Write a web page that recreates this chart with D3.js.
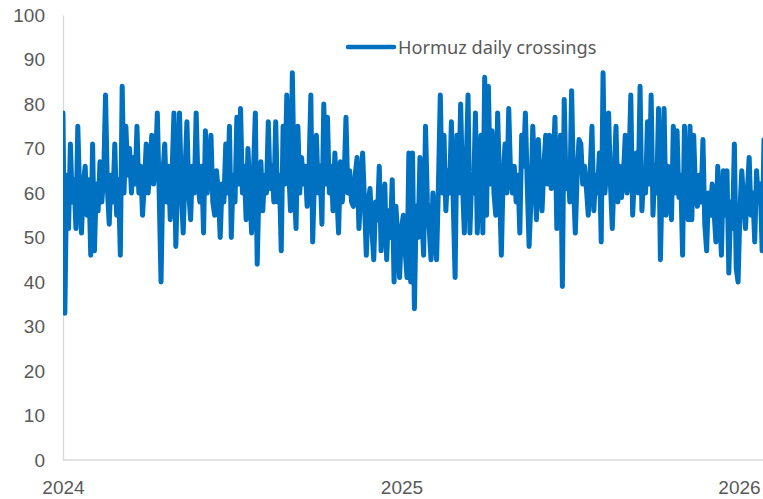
<!DOCTYPE html>
<html>
<head>
<meta charset="utf-8">
<script src="https://cdn.jsdelivr.net/npm/d3@7"></script>
<style>
  body { margin: 0; background: #fff; }
  svg { display: block; }
</style>
</head>
<body>
<div id="chart"></div>
<script>
// daily crossings, one value every 2 days starting 2024-01-01
var startDate = new Date(2024, 0, 1);
var stepDays = 2;
var crossings = [
  78,33,64,52,71,58,63,52,75,60,
  51,62,66,55,63,46,71,47,62,56,
  67,58,64,82,61,53,64,58,71,55,
  63,46,84,60,75,64,70,60,68,62,
  75,60,66,55,62,71,60,65,73,62,
  66,78,60,40,64,71,58,66,54,65,
  78,48,64,78,60,51,65,76,60,54,
  66,60,78,62,58,66,51,74,60,66,
  73,58,55,65,60,50,62,58,71,60,
  75,50,64,58,77,62,79,60,66,54,
  70,60,51,65,78,44,62,67,56,64,
  60,76,61,66,58,76,58,64,47,75,
  62,82,66,56,87,62,52,75,60,68,
  62,66,57,65,82,49,64,73,60,66,
  53,80,62,77,60,66,56,69,60,51,
  67,58,63,77,60,65,58,57,64,68,
  52,60,69,58,46,58,61,52,45,58,
  54,66,47,56,62,45,56,50,63,40,
  57,50,41,52,55,47,41,69,40,69,
  34,57,50,68,55,46,75,58,52,45,
  60,52,45,62,82,60,73,56,65,60,
  76,58,41,73,60,80,62,51,66,82,
  51,64,60,78,51,64,73,51,86,55,
  84,62,74,60,55,78,62,46,64,71,
  60,79,64,60,66,58,64,51,73,66,
  78,62,48,58,75,64,54,72,62,56,
  66,73,62,73,61,66,77,52,64,73,
  39,81,61,66,58,83,62,51,64,72,
  71,62,66,61,55,64,75,56,64,60,
  69,49,87,60,66,78,62,52,64,75,
  58,66,59,64,73,60,66,82,55,64,
  69,60,84,56,64,60,76,62,82,55,
  66,60,79,45,64,79,55,66,60,54,
  75,60,74,59,64,46,75,60,54,75,
  54,73,60,57,64,58,72,53,47,60,
  55,62,56,49,66,56,46,65,55,65,
  42,58,52,71,43,40,56,65,58,52,
  60,68,55,60,49,65,58,62,47,72,
  47
];
var yTicks = [0, 10, 20, 30, 40, 50, 60, 70, 80, 90, 100];
var xTicks = ["2024", "2025", "2026"];
var seriesName = "Hormuz daily crossings";

var width = 763, height = 499;
var plotLeft = 63, plotTop = 15, plotBottom = 460;

var data = crossings.map(function(v, i) {
  return { date: d3.timeDay.offset(startDate, i * stepDays), value: v };
});

var svg = d3.select("#chart").append("svg")
  .attr("width", width)
  .attr("height", height);

var x = d3.scaleTime()
  .domain([new Date(2024, 0, 1), new Date(2026, 0, 1)])
  .range([plotLeft, 739]);

var y = d3.scaleLinear()
  .domain([0, 100])
  .range([plotBottom, plotTop]);

svg.append("defs").append("clipPath")
  .attr("id", "plot-clip")
  .append("rect")
  .attr("x", plotLeft)
  .attr("y", 0)
  .attr("width", width - plotLeft)
  .attr("height", plotBottom + 3);

// axes
var yAxis = d3.axisLeft(y)
  .tickValues(yTicks)
  .tickSize(0)
  .tickPadding(18);

svg.append("g")
  .attr("class", "y axis")
  .attr("transform", "translate(" + plotLeft + ",0)")
  .call(yAxis)
  .call(function(g) {
    g.select(".domain").attr("stroke", "#d9d9d9").attr("stroke-width", 1.3);
    g.selectAll("text")
      .attr("fill", "#595959")
      .style("font-family", "'Liberation Sans', Arial, sans-serif")
      .style("font-size", "19px");
  });

var xAxis = d3.axisBottom(x)
  .tickValues(xTicks.map(function(t) { return new Date(+t, 0, 1); }))
  .tickFormat(d3.timeFormat("%Y"))
  .tickSize(0)
  .tickPadding(21);

svg.append("g")
  .attr("class", "x axis")
  .attr("transform", "translate(0," + plotBottom + ")")
  .call(xAxis)
  .call(function(g) {
    g.select(".domain")
      .attr("d", "M" + plotLeft + ",0H" + width)
      .attr("stroke", "#d9d9d9").attr("stroke-width", 1.3);
    g.selectAll("text")
      .attr("fill", "#595959")
      .style("font-family", "'Liberation Sans', Arial, sans-serif")
      .style("font-size", "19px");
  });

// the series line
var line = d3.line()
  .x(function(d) { return x(d.date); })
  .y(function(d) { return y(d.value); });

svg.append("path")
  .datum(data)
  .attr("clip-path", "url(#plot-clip)")
  .attr("fill", "none")
  .attr("stroke", "#0070c0")
  .attr("stroke-width", 5)
  .attr("stroke-linejoin", "round")
  .attr("stroke-linecap", "round")
  .attr("d", line);

// legend
var legend = svg.append("g").attr("class", "legend");
legend.append("line")
  .attr("x1", 348).attr("x2", 394)
  .attr("y1", 47).attr("y2", 47)
  .attr("stroke", "#0070c0")
  .attr("stroke-width", 4.5)
  .attr("stroke-linecap", "round");
legend.append("text")
  .attr("x", 398)
  .attr("y", 53.5)
  .attr("fill", "#595959")
  .style("font-family", "'Noto Sans', sans-serif")
  .style("font-size", "18.2px")
  .text(seriesName);
</script>
</body>
</html>
